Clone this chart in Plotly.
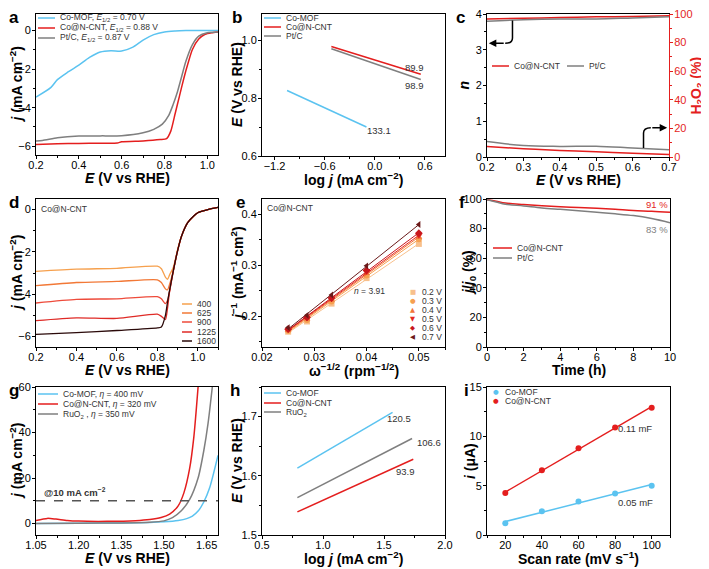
import numpy as np
import plotly.graph_objects as go

W, H = 709, 569
OFF = 8                      # page body margin of the browser
FW, FH = W - OFF, H - OFF    # figure size so that the page is exactly 709 x 569
FONT = "Liberation Sans, Arial, sans-serif"
BLUE = "#5BC3F0"
RED = "#E41E1E"
GRAY = "#7F7F7F"

# ---------------- data ----------------
# (a) ORR LSV
a_mof_E = [0.20, 0.27, 0.30, 0.35, 0.40, 0.45, 0.50, 0.55, 0.60, 0.65, 0.70, 0.75, 0.80, 0.85, 0.90, 1.05]
a_mof_j = [-3.45, -2.95, -2.55, -2.15, -1.80, -1.40, -1.12, -1.05, -1.07, -0.88, -0.50, -0.22, -0.08, -0.03, -0.01, 0.0]
a_cnt_E = [0.20, 0.30, 0.40, 0.50, 0.58, 0.60, 0.70, 0.78, 0.81, 0.83, 0.85, 0.87, 0.89, 0.91, 0.93, 0.96, 0.99, 1.02, 1.05]
a_cnt_j = [-5.90, -5.87, -5.85, -5.84, -5.83, -5.76, -5.72, -5.65, -5.60, -5.20, -4.30, -3.40, -2.50, -1.70, -1.00, -0.45, -0.20, -0.12, -0.08]
a_pt_E = [0.20, 0.23, 0.30, 0.40, 0.50, 0.60, 0.70, 0.75, 0.79, 0.82, 0.84, 0.86, 0.88, 0.90, 0.93, 0.96, 1.00, 1.05]
a_pt_j = [-5.72, -5.70, -5.56, -5.47, -5.46, -5.45, -5.30, -5.12, -4.85, -4.40, -3.85, -3.20, -2.40, -1.60, -0.75, -0.30, -0.12, -0.08]
a_names = ["Co-MOF, <i>E</i><sub>1/2</sub> = 0.70 V", "Co@N-CNT, <i>E</i><sub>1/2</sub> = 0.88 V", "Pt/C, <i>E</i><sub>1/2</sub> = 0.87 V"]

# (b) ORR Tafel
b_mof_x = [-1.05, -0.10]; b_mof_y = [0.826, 0.700]
b_cnt_x = [-0.52, 0.55]; b_cnt_y = [0.978, 0.882]
b_pt_x = [-0.52, 0.55]; b_pt_y = [0.970, 0.864]
b_labels = ["89.9", "98.9", "133.1"]
b_names = ["Co-MOF", "Co@N-CNT", "Pt/C"]

# (c) electron number and H2O2 yield
c_E = [0.20, 0.30, 0.40, 0.50, 0.60, 0.70]
c_n_cnt = [3.86, 3.88, 3.90, 3.92, 3.93, 3.95]
c_n_pt = [3.80, 3.84, 3.86, 3.86, 3.89, 3.92]
c_h2o2_cnt = [7.3, 5.8, 4.6, 3.6, 2.6, 1.8]
c_h2o2_pt = [10.8, 8.0, 7.4, 7.5, 6.3, 5.1]
c_names = ["Co@N-CNT", "Pt/C"]

# (d) LSV at various rotation rates, Co@N-CNT
d_rpm = ["400", "625", "900", "1225", "1600"]
d_colors = ["#F6A04D", "#F27836", "#EE4B3B", "#DF2A26", "#2B0A0A"]
d_E = [0.20, 0.40, 0.60, 0.80, 0.82, 0.84, 0.85, 0.86, 0.88, 0.90, 0.92, 0.95, 0.98, 1.00, 1.05, 1.10]
d_j = [
    [-2.92, -2.82, -2.78, -2.68, -2.80, -3.20, -3.30, -3.10, -2.70, -1.90, -1.25, -0.62, -0.30, -0.15, 0.00, 0.10],
    [-3.60, -3.45, -3.40, -3.32, -3.45, -3.75, -3.80, -3.55, -2.85, -1.95, -1.25, -0.62, -0.30, -0.15, 0.00, 0.10],
    [-4.42, -4.25, -4.22, -4.12, -4.22, -4.45, -4.30, -3.90, -2.85, -1.95, -1.25, -0.62, -0.30, -0.15, 0.00, 0.10],
    [-5.25, -5.12, -5.15, -4.95, -5.05, -5.20, -4.70, -3.90, -2.85, -1.95, -1.25, -0.62, -0.30, -0.15, 0.00, 0.10],
    [-5.90, -5.82, -5.72, -5.60, -5.55, -5.00, -4.40, -3.85, -2.85, -1.95, -1.25, -0.62, -0.30, -0.15, 0.00, 0.10],
]

# (e) K-L plots
e_w = [0.025, 0.0286, 0.0333, 0.040, 0.050]
e_V = ["0.2 V", "0.3 V", "0.4 V", "0.5 V", "0.6 V", "0.7 V"]
e_colors = ["#F8C08C", "#F6A050", "#F2743A", "#E42A1E", "#C8161C", "#6B1A1A"]
e_symbols = ["square", "circle", "triangle-up", "triangle-down", "diamond", "triangle-left"]
e_glyphs = ["■", "●", "▲", "▼", "◆", "◀"]
e_jinv = [
    [0.170, 0.190, 0.225, 0.275, 0.342],
    [0.172, 0.193, 0.229, 0.280, 0.351],
    [0.173, 0.195, 0.232, 0.284, 0.355],
    [0.174, 0.197, 0.234, 0.287, 0.358],
    [0.175, 0.198, 0.236, 0.290, 0.363],
    [0.178, 0.202, 0.242, 0.299, 0.380],
]

# (f) chronoamperometry
f_t = [0, 0.5, 1, 2, 3, 4, 5, 6, 7, 8, 9, 10]
f_cnt = [99.5, 98.5, 97.3, 96.3, 95.5, 94.8, 94.3, 93.7, 93.0, 92.2, 91.7, 91.0]
f_pt = [99.5, 98.0, 96.5, 95.3, 94.0, 93.0, 92.0, 91.0, 90.0, 88.8, 86.8, 84.0]
f_names = ["Co@N-CNT", "Pt/C"]

# (g) OER LSV
g_mof_E = [1.05, 1.20, 1.35, 1.45, 1.50, 1.55, 1.58, 1.60, 1.62, 1.64, 1.66, 1.69]
g_mof_j = [0.1, 0.2, 0.3, 0.5, 0.8, 1.4, 2.2, 3.3, 5.5, 9.5, 15.5, 30.0]
g_cnt_E = [1.05, 1.09, 1.12, 1.16, 1.20, 1.30, 1.40, 1.45, 1.49, 1.52, 1.55, 1.57, 1.59, 1.605, 1.62]
g_cnt_j = [1.4, 2.3, 2.0, 1.4, 1.1, 1.0, 1.3, 1.8, 2.7, 4.2, 7.8, 13.5, 24.0, 38.0, 60.0]
g_ru_E = [1.05, 1.20, 1.35, 1.45, 1.50, 1.53, 1.56, 1.59, 1.62, 1.64, 1.655, 1.67]
g_ru_j = [0.1, 0.2, 0.3, 0.6, 1.2, 2.6, 5.5, 10.5, 20.0, 32.0, 44.0, 60.0]
g_names = ["Co-MOF, <i>η</i> = 400 mV", "Co@N-CNT, <i>η</i> = 320 mV", "RuO<sub>2</sub> , <i>η</i> = 350 mV"]

# (h) OER Tafel
h_mof_x = [0.79, 1.57]; h_mof_y = [1.613, 1.707]
h_ru_x = [0.79, 1.73]; h_ru_y = [1.563, 1.663]
h_cnt_x = [0.79, 1.74]; h_cnt_y = [1.539, 1.628]
h_labels = ["120.5", "106.6", "93.9"]
h_names = ["Co-MOF", "Co@N-CNT", "RuO<sub>2</sub>"]

# (i) double-layer capacitance
i_rate = [20, 40, 60, 80, 100]
i_mof = [1.2, 2.4, 3.4, 4.2, 5.0]
i_cnt = [4.25, 6.55, 8.8, 10.9, 12.9]
i_names = ["Co-MOF", "Co@N-CNT"]

# axis titles
EX = "<i>E</i> (V vs RHE)"
JY = "<i>j</i> (mA cm<sup>−2</sup>)"
LOGJ = "log <i>j</i> (mA cm<sup>−2</sup>)"
X_TITLES = {"a": EX, "b": LOGJ, "c": EX, "d": EX, "e": "ω<sup>−1/2</sup> (rpm<sup>−1/2</sup>)", "f": "Time (h)",
            "g": EX, "h": LOGJ, "i": "Scan rate (mV s<sup>−1</sup>)"}
Y_TITLES = {"a": JY, "b": EX, "c": "<i>n</i>", "d": JY, "e": "<i>j</i><sup>−1</sup> (mA<sup>−1</sup> cm<sup>2</sup>)",
            "f": "<i>j</i>/<i>j</i><sub>0</sub> (%)", "g": JY, "h": EX, "i": "<i>i</i> (μA)"}
Y2_TITLE_C = "H<sub>2</sub>O<sub>2</sub> (%)"

# ---------------- figure ----------------
fig = go.Figure()

def px(x):
    return (x - OFF) / FW

def py(y):
    return 1 - (y - OFF) / FH

def dom_x(a, b):
    return [px(a), px(b)]

def dom_y(t, b):
    return [py(b), py(t)]

TICKF = dict(family=FONT, size=11, color="black")
TITF = dict(family=FONT, size=14, color="black", weight="bold")

def axis(domain, anchor, rng, dtick, minor, mirror=True, xa=True, **kw):
    d = dict(domain=domain, anchor=anchor, range=rng, dtick=dtick, automargin=False,
             showline=True, linecolor="black", linewidth=1, mirror=mirror,
             ticks="outside", ticklen=3, tickwidth=1, tickcolor="black",
             minor=dict(dtick=minor, ticks="outside", ticklen=2, tickcolor="black"),
             showgrid=False, zeroline=False, tickfont=TICKF, ticklabeloverflow="allow",
             ticklabelstandoff=-3 if xa else -1)
    d.update(kw)
    return d

P = {
    "a": ([36, 218], [14, 155]), "b": ([262, 445], [14, 156]), "c": ([487, 669], [14, 157]),
    "d": ([36, 218], [199, 347]), "e": ([262, 445], [199, 347]), "f": ([487, 670], [199, 347]),
    "g": ([36, 218], [387, 535]), "h": ([262, 445], [387, 535]), "i": ([487, 670], [387, 535]),
}

lay = {}
lay["xaxis"] = axis(dom_x(*P["a"][0]), "y", [0.2, 1.05], 0.2, 0.1, tickformat=".1f")
lay["yaxis"] = axis(dom_y(*P["a"][1]), "x", [-6.45, 0.85], 2, 1, xa=False)
lay["xaxis2"] = axis(dom_x(*P["b"][0]), "y2", [-1.35, 0.84], 0.6, 0.3, tickformat=".1f", tick0=0)
lay["yaxis2"] = axis(dom_y(*P["b"][1]), "x2", [0.6, 1.09], 0.2, 0.1, tickformat=".1f", xa=False)
lay["xaxis3"] = axis(dom_x(*P["c"][0]), "y3", [0.2, 0.7], 0.1, 0.05, tickformat=".1f")
lay["yaxis3"] = axis(dom_y(*P["c"][1]), "x3", [0, 4], 1, 0.5, mirror=False, xa=False)
lay["yaxis10"] = axis(dom_y(*P["c"][1]), "x3", [0, 100], 20, 10, mirror=False, xa=False,
                      overlaying="y3", side="right", linecolor=RED, tickcolor=RED,
                      tickfont=dict(family=FONT, size=11, color=RED))
lay["yaxis10"]["minor"]["tickcolor"] = RED
lay["xaxis4"] = axis(dom_x(*P["d"][0]), "y4", [0.2, 1.1], 0.2, 0.1, tickformat=".1f")
lay["yaxis4"] = axis(dom_y(*P["d"][1]), "x4", [-6.5, 0.5], 2, 1, xa=False)
lay["xaxis5"] = axis(dom_x(*P["e"][0]), "y5", [0.02, 0.055], 0.01, 0.005, tickformat=".2f")
lay["yaxis5"] = axis(dom_y(*P["e"][1]), "x5", [0.14, 0.43], 0.1, 0.05, tickformat=".1f", tick0=0, xa=False)
lay["xaxis6"] = axis(dom_x(*P["f"][0]), "y6", [0, 10], 2, 1)
lay["yaxis6"] = axis(dom_y(*P["f"][1]), "x6", [0, 100], 20, 10, xa=False)
lay["xaxis7"] = axis(dom_x(*P["g"][0]), "y7", [1.05, 1.69], 0.15, 0.075, tick0=1.05, tickformat=".2f")
lay["yaxis7"] = axis(dom_y(*P["g"][1]), "x7", [-5, 60], 20, 10, xa=False)
lay["xaxis8"] = axis(dom_x(*P["h"][0]), "y8", [0.5, 2.0], 0.5, 0.25, tickformat=".1f")
lay["yaxis8"] = axis(dom_y(*P["h"][1]), "x8", [1.5, 1.75], 0.1, 0.05, tickformat=".1f", tick0=1.5, xa=False)
lay["xaxis9"] = axis(dom_x(*P["i"][0]), "y9", [10, 110], 20, 10, tick0=0)
lay["yaxis9"] = axis(dom_y(*P["i"][1]), "x9", [0, 15], 5, 2.5, xa=False)

def L(color, smooth=None, w=1.5):
    d = dict(color=color, width=w)
    if smooth is not None:
        d.update(shape="spline", smoothing=smooth)
    return d

# ---- traces ----
fig.add_trace(go.Scatter(x=a_mof_E, y=a_mof_j, mode="lines", line=L(BLUE, 0.8), name=b_names[0], xaxis="x", yaxis="y"))
fig.add_trace(go.Scatter(x=a_cnt_E, y=a_cnt_j, mode="lines", line=L(RED, 0.6), name=b_names[1], xaxis="x", yaxis="y"))
fig.add_trace(go.Scatter(x=a_pt_E, y=a_pt_j, mode="lines", line=L(GRAY, 0.6), name=b_names[2], xaxis="x", yaxis="y"))
for xs, ys, c, n in [(b_mof_x, b_mof_y, BLUE, b_names[0]), (b_cnt_x, b_cnt_y, RED, b_names[1]), (b_pt_x, b_pt_y, GRAY, b_names[2])]:
    fig.add_trace(go.Scatter(x=xs, y=ys, mode="lines", line=L(c), name=n, xaxis="x2", yaxis="y2"))
fig.add_trace(go.Scatter(x=c_E, y=c_n_cnt, mode="lines", line=L(RED, 1), name=c_names[0], xaxis="x3", yaxis="y3"))
fig.add_trace(go.Scatter(x=c_E, y=c_n_pt, mode="lines", line=L(GRAY, 1), name=c_names[1], xaxis="x3", yaxis="y3"))
fig.add_trace(go.Scatter(x=c_E, y=c_h2o2_cnt, mode="lines", line=L(RED, 1), name=c_names[0], xaxis="x3", yaxis="y10"))
fig.add_trace(go.Scatter(x=c_E, y=c_h2o2_pt, mode="lines", line=L(GRAY, 1), name=c_names[1], xaxis="x3", yaxis="y10"))
for k in range(len(d_rpm)):
    fig.add_trace(go.Scatter(x=d_E, y=d_j[k], mode="lines", line=L(d_colors[k], 0.6, 1.3), name=d_rpm[k], xaxis="x4", yaxis="y4"))
e_x = np.array(e_w)
for k in range(len(e_V)):
    p = np.polyfit(e_x, np.array(e_jinv[k]), 1)
    xl = np.array([e_w[0], e_w[-1]])
    fig.add_trace(go.Scatter(x=xl, y=np.polyval(p, xl), mode="lines", line=L(e_colors[k], None, 1), name=e_V[k], xaxis="x5", yaxis="y5"))
    fig.add_trace(go.Scatter(x=e_w, y=e_jinv[k], mode="markers", marker=dict(color=e_colors[k], symbol=e_symbols[k], size=6),
                             name=e_V[k], xaxis="x5", yaxis="y5"))
fig.add_trace(go.Scatter(x=f_t, y=f_cnt, mode="lines", line=L(RED, 1), name=f_names[0], xaxis="x6", yaxis="y6"))
fig.add_trace(go.Scatter(x=f_t, y=f_pt, mode="lines", line=L(GRAY, 1), name=f_names[1], xaxis="x6", yaxis="y6"))
fig.add_trace(go.Scatter(x=g_mof_E, y=g_mof_j, mode="lines", line=L(BLUE, 0.7), name=g_names[0], xaxis="x7", yaxis="y7"))
fig.add_trace(go.Scatter(x=g_cnt_E, y=g_cnt_j, mode="lines", line=L(RED, 0.7), name=g_names[1], xaxis="x7", yaxis="y7"))
fig.add_trace(go.Scatter(x=g_ru_E, y=g_ru_j, mode="lines", line=L(GRAY, 0.7), name=g_names[2], xaxis="x7", yaxis="y7"))
for xs, ys, c, n in [(h_mof_x, h_mof_y, BLUE, h_names[0]), (h_cnt_x, h_cnt_y, RED, h_names[1]), (h_ru_x, h_ru_y, GRAY, h_names[2])]:
    fig.add_trace(go.Scatter(x=xs, y=ys, mode="lines", line=L(c), name=n, xaxis="x8", yaxis="y8"))
ix = np.array(i_rate)
for ys, c, n in [(i_mof, BLUE, i_names[0]), (i_cnt, RED, i_names[1])]:
    p = np.polyfit(ix, np.array(ys), 1)
    xl = np.array([i_rate[0], i_rate[-1]])
    fig.add_trace(go.Scatter(x=xl, y=np.polyval(p, xl), mode="lines", line=L(c), name=n, xaxis="x9", yaxis="y9"))
    fig.add_trace(go.Scatter(x=i_rate, y=ys, mode="markers", marker=dict(color=c, size=6), name=n, xaxis="x9", yaxis="y9"))

ann = []
shapes = []

# ---- axis titles (placed precisely as annotations) ----
YT_X = {"a": 16, "b": 237, "c": 463, "d": 16, "e": 237, "f": 469, "g": 16, "h": 237, "i": 470}
for k in "abcdefghi":
    (x0, x1), (t, b) = P[k]
    ann.append(dict(text=X_TITLES[k], x=px((x0 + x1) / 2), y=py(b + 23), xref="paper", yref="paper",
                    showarrow=False, xanchor="center", yanchor="middle", font=TITF))
    ann.append(dict(text=Y_TITLES[k], x=px(YT_X[k]), y=py((t + b) / 2), xref="paper", yref="paper", textangle=-90,
                    showarrow=False, xanchor="center", yanchor="middle", font=TITF))
ann.append(dict(text=Y2_TITLE_C, x=px(696), y=py((P["c"][1][0] + P["c"][1][1]) / 2), xref="paper", yref="paper",
                textangle=-90, showarrow=False, xanchor="center", yanchor="middle",
                font=dict(family=FONT, size=14, color=RED, weight="bold")))

# ---- compact hand-made legends (plotly legend rows are too tall here) ----
LFONT = dict(family=FONT, size=8.5, color="#333")

def leg_lines(x0, ys, names, colors, length=17, width=1.5):
    for y, n, c in zip(ys, names, colors):
        shapes.append(dict(type="line", xref="paper", yref="paper", x0=px(x0), x1=px(x0 + length), y0=py(y), y1=py(y),
                           line=dict(color=c, width=width)))
        ann.append(dict(text=n, x=px(x0 + length + 3), y=py(y), xref="paper", yref="paper", showarrow=False,
                        xanchor="left", yanchor="middle", font=LFONT))

def leg_marks(x0, ys, names, colors, glyphs, size=7):
    for y, n, c, g in zip(ys, names, colors, glyphs):
        ann.append(dict(text=g, x=px(x0), y=py(y), xref="paper", yref="paper", showarrow=False,
                        xanchor="center", yanchor="middle", font=dict(family="DejaVu Sans", size=size, color=c)))
        ann.append(dict(text=n, x=px(x0 + 7), y=py(y), xref="paper", yref="paper", showarrow=False,
                        xanchor="left", yanchor="middle", font=LFONT))

leg_lines(38, [18, 28, 38], a_names, [BLUE, RED, GRAY])
leg_lines(264, [18, 27, 36], b_names, [BLUE, RED, GRAY])
leg_lines(492, [66], [c_names[0]], [RED])
leg_lines(567, [66], [c_names[1]], [GRAY])
leg_lines(182, [304, 313, 322, 332, 341], d_rpm, d_colors, length=10)
leg_marks(413, [292, 301, 310, 319, 328, 337], e_V, e_colors, e_glyphs, size=6.5)
leg_lines(493, [248, 258], f_names, [RED, GRAY], length=19)
leg_lines(38, [394, 404, 414], g_names, [BLUE, RED, GRAY], length=20)
leg_lines(264, [393, 403, 412], h_names, [BLUE, RED, GRAY])
leg_marks(496, [392, 401], i_names, [BLUE, RED], ["●", "●"], size=6.5)

# ---- panel letters and in-plot labels ----
for lab, (xx, yy) in zip("abcdefghi", [(14, 18), (237, 18), (460, 18), (14, 202), (240, 202), (462, 202), (14, 390), (235, 390), (466, 390)]):
    ann.append(dict(text=f"<b>{lab}</b>", x=px(xx), y=py(yy), xref="paper", yref="paper", showarrow=False,
                    font=dict(family=FONT, size=17, color="black"), xanchor="center", yanchor="middle"))
TF = dict(family=FONT, size=9.5, color="#333")
ann += [
    dict(text=b_labels[0], x=0.48, y=0.905, xref="x2", yref="y2", showarrow=False, font=TF),
    dict(text=b_labels[1], x=0.48, y=0.845, xref="x2", yref="y2", showarrow=False, font=TF),
    dict(text=b_labels[2], x=0.05, y=0.688, xref="x2", yref="y2", showarrow=False, font=TF),
    dict(text="Co@N-CNT", x=0.215, y=0.35, xref="x4", yref="y4", showarrow=False, font=LFONT, xanchor="left", yanchor="top"),
    dict(text="Co@N-CNT", x=0.0205, y=0.427, xref="x5", yref="y5", showarrow=False, font=LFONT, xanchor="left", yanchor="top"),
    dict(text="<i>n</i> = 3.91", x=0.0405, y=0.25, xref="x5", yref="y5", showarrow=False, font=LFONT),
    dict(text="91 %", x=9.3, y=96, xref="x6", yref="y6", showarrow=False, font=dict(family=FONT, size=9.5, color=RED)),
    dict(text="83 %", x=9.3, y=79.5, xref="x6", yref="y6", showarrow=False, font=dict(family=FONT, size=9.5, color=GRAY)),
    dict(text="<b>@10 mA cm<sup>−2</sup></b>", x=1.07, y=10.5, xref="x7", yref="y7", showarrow=False, font=TF,
         xanchor="left", yanchor="bottom"),
    dict(text=h_labels[0], x=1.62, y=1.697, xref="x8", yref="y8", showarrow=False, font=TF),
    dict(text=h_labels[1], x=1.87, y=1.657, xref="x8", yref="y8", showarrow=False, font=TF),
    dict(text=h_labels[2], x=1.68, y=1.607, xref="x8", yref="y8", showarrow=False, font=TF),
    dict(text="0.11 mF", x=91, y=10.8, xref="x9", yref="y9", showarrow=False, font=TF),
    dict(text="0.05 mF", x=91, y=3.3, xref="x9", yref="y9", showarrow=False, font=TF),
    dict(x=0.205, y=3.18, ax=0.25, ay=3.18, xref="x3", yref="y3", axref="x3", ayref="y3", showarrow=True,
         arrowhead=2, arrowsize=1, arrowwidth=1.5, arrowcolor="black", text=""),
    dict(x=0.695, y=0.82, ax=0.65, ay=0.82, xref="x3", yref="y3", axref="x3", ayref="y3", showarrow=True,
         arrowhead=2, arrowsize=1, arrowwidth=1.5, arrowcolor="black", text=""),
]

shapes += [
    dict(type="line", xref="x7 domain", yref="y7", x0=0, x1=1, y0=10, y1=10, line=dict(color="#555", width=1.5, dash="dash")),
    dict(type="path", xref="x3", yref="y3", path="M 0.27 3.82 L 0.27 3.33 Q 0.27 3.18 0.25 3.18", line=dict(color="black", width=1.5)),
    dict(type="path", xref="x3", yref="y3", path="M 0.63 0.25 L 0.63 0.67 Q 0.63 0.82 0.65 0.82", line=dict(color="black", width=1.5)),
]

fig.update_layout(**lay)
fig.update_layout(width=FW, height=FH, margin=dict(l=0, r=0, t=0, b=0, autoexpand=False), showlegend=False,
                  plot_bgcolor="white", paper_bgcolor="white",
                  font=dict(family=FONT), annotations=ann, shapes=shapes)
fig.write_html("out.html")
